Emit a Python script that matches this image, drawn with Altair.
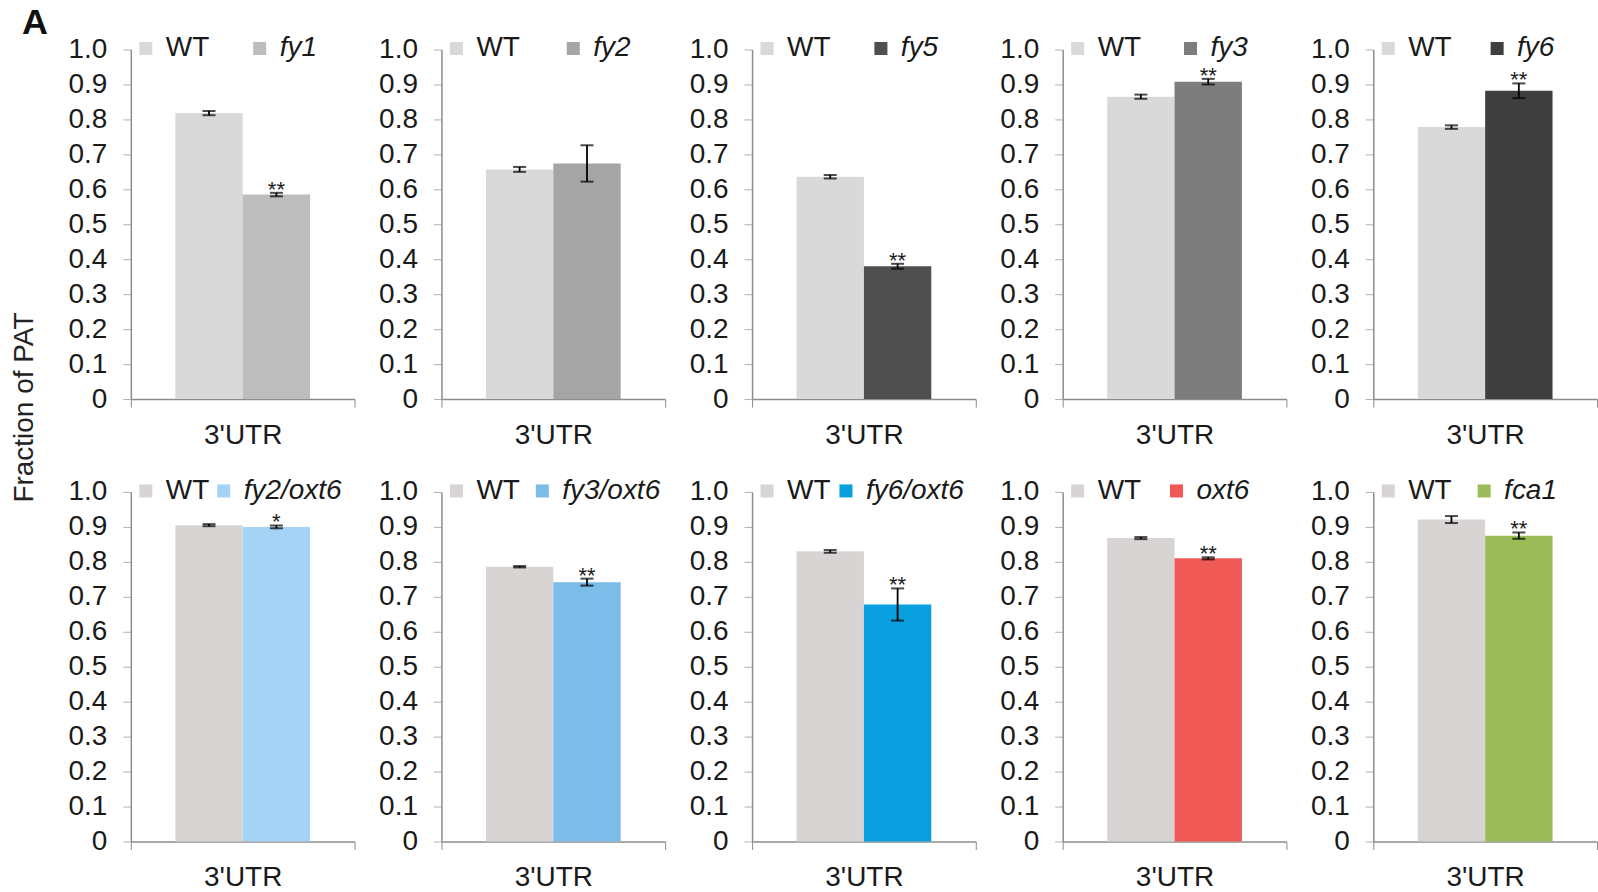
import altair as alt
import pandas as pd

# ---- data ----
panels = ["fy1", "fy2", "fy5", "fy3", "fy6",
          "fy2/oxt6", "fy3/oxt6", "fy6/oxt6", "oxt6", "fca1"]
wt_vals = [0.818, 0.657, 0.636, 0.865, 0.778, 0.905, 0.786, 0.830, 0.868, 0.921]
wt_err = [0.006, 0.007, 0.005, 0.006, 0.005, 0.003, 0.002, 0.004, 0.003, 0.010]
mut_vals = [0.585, 0.674, 0.380, 0.908, 0.882, 0.900, 0.742, 0.678, 0.810, 0.875]
mut_err = [0.005, 0.052, 0.007, 0.008, 0.021, 0.004, 0.010, 0.046, 0.003, 0.009]
stars = ["**", "", "**", "**", "**", "*", "**", "**", "**", "**"]
wt_colors = ["#d9d9d9"] * 5 + ["#d8d4d4"] * 5
mut_colors = ["#bdbdbd", "#a5a5a5", "#4f4f4f", "#7d7d7d", "#3f3f3f",
              "#a5d3f5", "#7bbde8", "#0aa0e0", "#ef5a57", "#9bbb59"]
legend_gap = [36, 39, 36, 35, 31, 0, 8, 1, 21, 18]
region = "3'UTR"
y_ticks = [0, 0.1, 0.2, 0.3, 0.4, 0.5, 0.6, 0.7, 0.8, 0.9, 1.0]

FONT = "Liberation Sans"
W, H = 224, 350


def panel(i):
    mut = panels[i]
    df = pd.DataFrame({
        "region": [region, region],
        "genotype": ["WT", mut],
        "value": [wt_vals[i], mut_vals[i]],
        "lo": [wt_vals[i] - wt_err[i], mut_vals[i] - mut_err[i]],
        "hi": [wt_vals[i] + wt_err[i], mut_vals[i] + mut_err[i]],
        "star": ["", stars[i]],
    })
    yaxis_kw = dict(values=y_ticks, grid=False, labelOverlap=False,
                    labelExpr="datum.value == 0 ? '0' : format(datum.value, '.1f')",
                    labelFontSize=28, labelColor="#1a1a1a", labelFont=FONT,
                    labelPadding=16, tickSize=8, tickColor="#b0b0b0",
                    domainColor="#8c8c8c", domainWidth=1.5)
    if i == 0:
        yaxis = alt.Axis(title="Fraction of PAT", titleFontSize=28, titleFont=FONT,
                         titleFontWeight="normal", titleColor="#222222",
                         titleAngle=270, titleX=-106, titleY=358,
                         titleAlign="center", titleBaseline="middle", **yaxis_kw)
    else:
        yaxis = alt.Axis(title=None, **yaxis_kw)

    x = alt.X("region:N", title=None,
              scale=alt.Scale(paddingInner=0, paddingOuter=0),
              axis=alt.Axis(labelAngle=0, labelFontSize=28, labelFont=FONT,
                            labelColor="#1a1a1a", labelPadding=14, tickBand="extent",
                            tickSize=8, tickColor="#8c8c8c", domainColor="#8c8c8c",
                            domainWidth=1.5))
    xo = alt.XOffset("genotype:N", sort=["WT", mut],
                     scale=alt.Scale(paddingOuter=0.66, paddingInner=0))
    y_scale = alt.Scale(domain=[0, 1])

    def yenc(field):
        return alt.Y(field, type="quantitative", scale=y_scale, axis=yaxis)

    base = alt.Chart(df)
    bars = base.mark_bar().encode(
        x=x, xOffset=xo, y=yenc("value"),
        color=alt.Color("genotype:N",
                        scale=alt.Scale(domain=["WT", mut],
                                        range=[wt_colors[i], mut_colors[i]]),
                        legend=alt.Legend(title=None, orient="none", legendX=1, legendY=-15,
                                          direction="horizontal", symbolType="square",
                                          symbolSize=170, symbolStrokeWidth=0,
                                          labelFontSize=28, labelFont=FONT,
                                          labelColor="#1a1a1a", labelOffset=6,
                                          columnPadding=legend_gap[i],
                                          labelFontStyle=alt.ExprRef(
                                              expr="datum.label == 'WT' ? 'normal' : 'italic'"))),
    )
    err = base.mark_rule(color="black", strokeWidth=1.8).encode(
        x=x, xOffset=xo, y=yenc("lo"), y2="hi:Q")
    cap_lo = base.mark_tick(color="black", thickness=2, size=13).encode(
        x=x, xOffset=xo, y=yenc("lo"))
    cap_hi = base.mark_tick(color="black", thickness=2, size=13).encode(
        x=x, xOffset=xo, y=yenc("hi"))
    txt = base.mark_text(fontSize=22, font=FONT, color="#1a1a1a",
                         baseline="alphabetic", dy=4).encode(
        x=x, xOffset=xo, y=yenc("hi"), text="star:N")
    return alt.layer(bars, err, cap_lo, cap_hi, txt).properties(width=W, height=H)


chart = alt.ConcatChart(
    concat=[panel(i) for i in range(10)], columns=5,
    spacing={"row": 93, "column": 87}, bounds="flush",
).resolve_scale(
    color="independent", x="independent", xOffset="independent", y="independent"
).properties(
    title=alt.TitleParams("A", anchor="start", frame="group", fontSize=36,
                          fontWeight="bold", font=FONT, color="#111111",
                          dx=-109, dy=7, offset=0),
    padding={"left": 11, "top": 4, "right": 0, "bottom": 0},
    background="white",
).configure_view(stroke=None)

chart.save("out.html", embed_options={"renderer": "svg", "actions": False})
